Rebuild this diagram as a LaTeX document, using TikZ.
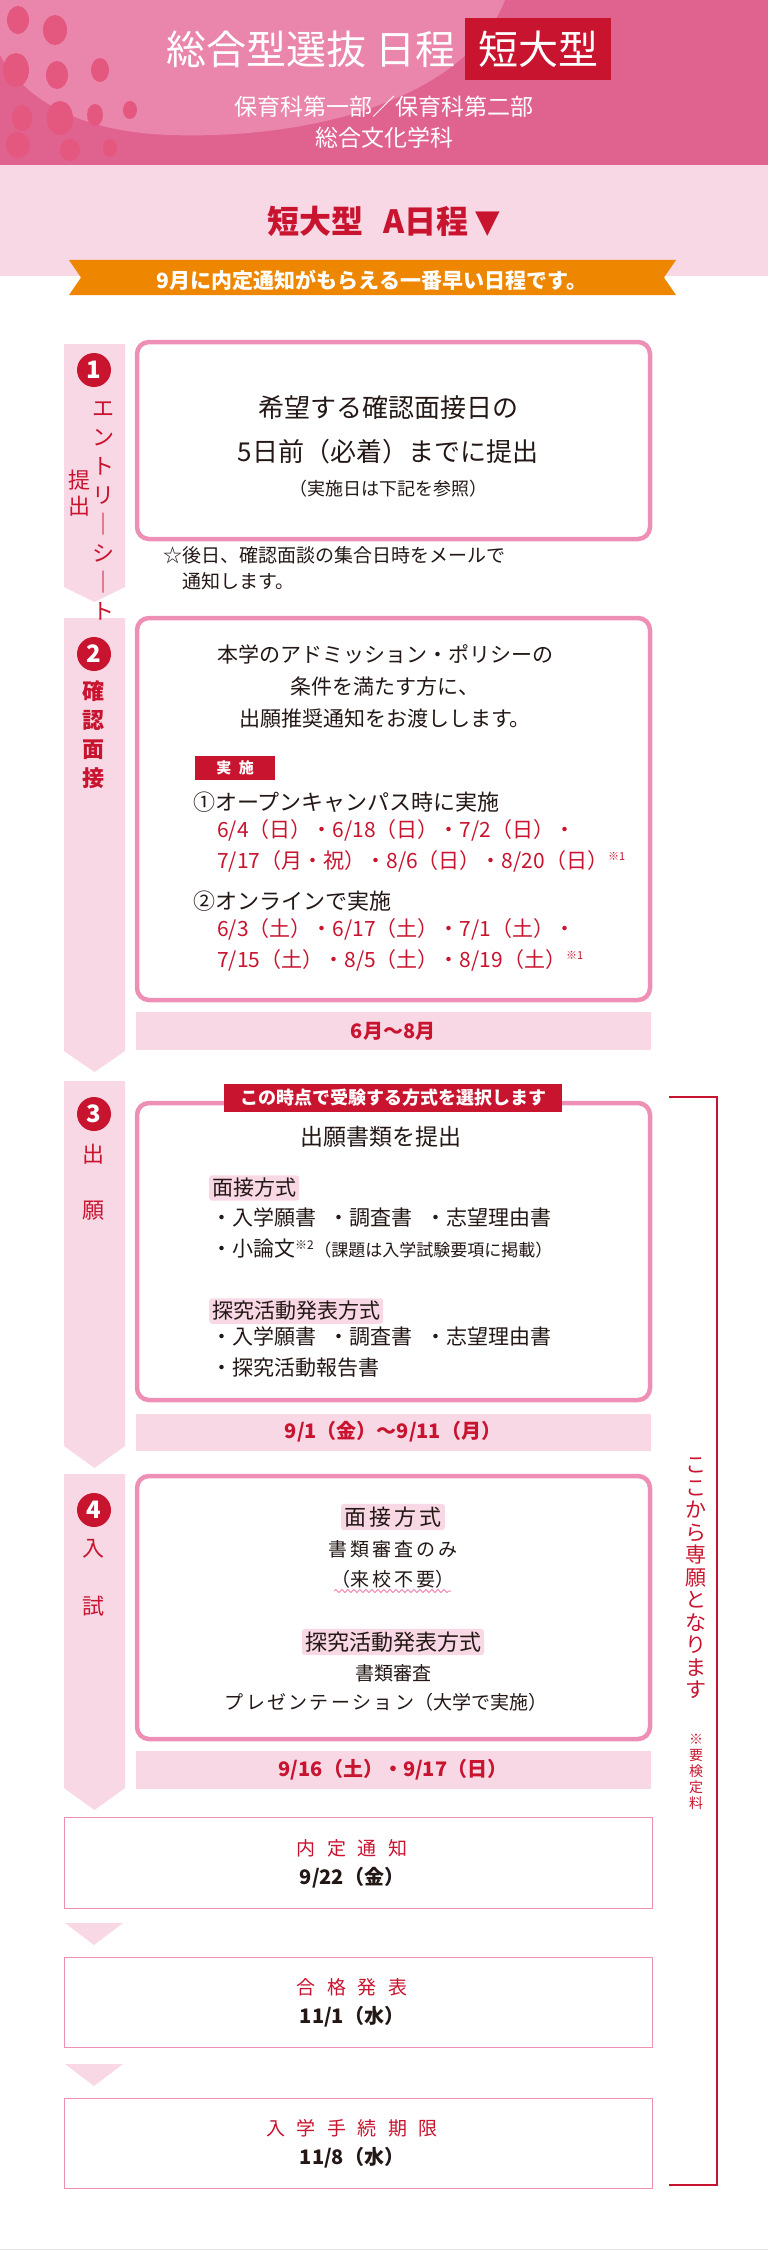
\documentclass[tikz,border=0pt]{standalone}
\usepackage{fontspec}
\setmainfont{Noto Sans CJK JP}
\usetikzlibrary{decorations.pathmorphing}
\definecolor{hdpink}{HTML}{E0628F}
\definecolor{swpink}{HTML}{EA86AB}
\definecolor{dotpink}{HTML}{E4577F}
\definecolor{lightpink}{HTML}{F8D8E5}
\definecolor{boxpink}{HTML}{EE90B6}
\definecolor{jred}{HTML}{C8142F}
\definecolor{jorange}{HTML}{EE8600}
\definecolor{ink}{HTML}{231815}
\tikzset{stepbar/.style={fill=lightpink, draw=none}}
\tikzset{stepbox/.style={draw=boxpink, line width=4.5pt, rounded corners=12pt, fill=white}}
\tikzset{numdot/.style={circle, fill=jred, text=white, inner sep=0pt, minimum size=34pt, font=\fontsize{24}{24}\selectfont\bfseries}}
\tikzset{vlabel/.style={text=jred, align=center, inner sep=0pt}}
\tikzset{dateband/.style={fill=lightpink, draw=none}}
\tikzset{datetext/.style={text=jred, font=\fontsize{20}{20}\selectfont\bfseries, inner sep=0pt}}
\tikzset{tagbox/.style={fill=lightpink, rounded corners=3pt, inner sep=3pt, text=ink}}
\tikzset{bodytext/.style={text=ink, inner sep=0pt}}
\tikzset{endbox/.style={draw=boxpink, line width=1pt, fill=white}}
\begin{document}
\begin{tikzpicture}[x=1pt,y=-1pt]
    \useasboundingbox (0,0) rectangle (768,2250);
    % header
    \fill[hdpink] (0,0) rectangle (768,165);
    \fill[swpink] (0,0) -- (505,0) .. controls (470,90) and (330,140) .. (170,135)
      .. controls (80,132) and (25,100) .. (0,55) -- cycle;
    \foreach \px/\py/\rx/\ry in {18/20/11/14, 55/30/12/15, 16/70/13/17, 57/75/11/14, 22/118/10/13,
      60/118/13/17, 100/70/9/12, 95/115/8/11, 18/145/12/13, 70/150/10/11, 110/148/7/9, 130/110/7/9}
      \fill[dotpink] (\px,\py) ellipse ({\rx} and {\ry});
    \fill[lightpink] (0,165) rectangle (768,276);
    \node[text=white, inner sep=0pt, font=\fontsize{40}{40}\selectfont, anchor=east] (title) at (456,49) {総合型選抜 日程};
    \node[fill=jred, text=white, inner sep=0pt, minimum width=146pt, minimum height=62pt, font=\fontsize{40}{40}\selectfont, anchor=west] (tanki) at (465,49) {短大型};
    \node[text=white, font=\fontsize{23}{23}\selectfont, inner sep=0pt] (dept1) at (384,107) {保育科第一部／保育科第二部};
    \node[text=white, font=\fontsize{23}{23}\selectfont, inner sep=0pt] (dept2) at (384,138) {総合文化学科};
    \node[text=jred, font=\fontsize{32}{32}\selectfont\bfseries, inner sep=0pt] (sched) at (384,221) {短大型\hspace{0.6em}A日程 \raisebox{1pt}{\fontspec{DejaVu Sans}▼}};
    % banner
    \fill[jorange] (69,260) -- (676,260) -- (664,277.5) -- (676,295) -- (69,295) -- (81,277.5) -- cycle;
    \node[text=white, font=\fontsize{21}{21}\selectfont\bfseries, inner sep=0pt] (banner) at (372,280) {9月に内定通知がもらえる一番早い日程です。};
    % step bars
    \fill[stepbar] (64,344) -- (125,344) -- (125,587) -- (94.5,602) -- (64,587) -- cycle;
    \fill[stepbar] (64,618) -- (125,618) -- (125,1051) -- (94.5,1072) -- (64,1051) -- cycle;
    \fill[stepbar] (64,1081) -- (125,1081) -- (125,1446) -- (94.5,1468) -- (64,1446) -- cycle;
    \fill[stepbar] (64,1474) -- (125,1474) -- (125,1788) -- (94.5,1810) -- (64,1788) -- cycle;
    \node[numdot] (n1) at (94,370) {1};
    \node[numdot] (n2) at (94,654) {2};
    \node[numdot] (n3) at (94,1114) {3};
    \node[numdot] (n4) at (94,1510) {4};
    \node[vlabel, font=\fontsize{22}{29}\selectfont, anchor=north] (v1) at (103,402) {エ\\ン\\ト\\リ\\｜\\シ\\｜\\ト};
    \node[vlabel, font=\fontsize{22}{26}\selectfont, anchor=north] (v1b) at (79,470) {提\\出};
    \node[vlabel, font=\fontsize{22}{29}\selectfont\bfseries, anchor=north] (v2) at (93,680) {確\\認\\面\\接};
    \node[vlabel, font=\fontsize{22}{22}\selectfont] (v3a) at (93,1154) {出};
    \node[vlabel, font=\fontsize{22}{22}\selectfont] (v3b) at (93,1211) {願};
    \node[vlabel, font=\fontsize{22}{22}\selectfont] (v4a) at (93,1549) {入};
    \node[vlabel, font=\fontsize{22}{22}\selectfont] (v4b) at (93,1606) {試};
    % step 1
    \draw[stepbox] (137,342) rectangle (650,539);
    \node[bodytext, font=\fontsize{26}{26}\selectfont] (s1a) at (388,408) {希望する確認面接日の};
    \node[bodytext, font=\fontsize{26}{26}\selectfont] (s1b) at (388,452) {5日前（必着）までに提出};
    \node[bodytext, font=\fontsize{18}{18}\selectfont] (s1c) at (388,489) {（実施日は下記を参照）};
    \node[bodytext, font=\fontsize{19}{26}\selectfont, align=left, anchor=north west] (note) at (163,546) {☆後日、確認面談の集合日時をメールで\\\hspace{1em}通知します。};
    % step 2
    \draw[stepbox] (137,618) rectangle (650,1000);
    \node[bodytext, font=\fontsize{21}{32}\selectfont, align=center] (s2a) at (385,686) {本学のアドミッション・ポリシーの\\条件を満たす方に、\\出願推奨通知をお渡しします。};
    \node[fill=jred, text=white, font=\fontsize{15}{15}\selectfont\bfseries, minimum width=80pt, minimum height=24pt, inner sep=0pt, anchor=west] (jisshi) at (195,768) {実\hspace{0.5em}施};
    \node[bodytext, font=\fontsize{22}{22}\selectfont, anchor=west] (op1) at (193,802) {①オープンキャンパス時に実施};
    \node[text=jred, font=\fontsize{21}{31}\selectfont, align=left, anchor=north west, inner sep=0pt] (d1) at (217,819) {6/4（日）・6/18（日）・7/2（日）・\\7/17（月・祝）・8/6（日）・8/20（日）\textsuperscript{\fontsize{11}{11}\selectfont ※1}};
    \node[bodytext, font=\fontsize{22}{22}\selectfont, anchor=west] (op2) at (193,901) {②オンラインで実施};
    \node[text=jred, font=\fontsize{21}{31}\selectfont, align=left, anchor=north west, inner sep=0pt] (d2) at (217,918) {6/3（土）・6/17（土）・7/1（土）・\\7/15（土）・8/5（土）・8/19（土）\textsuperscript{\fontsize{11}{11}\selectfont ※1}};
    \fill[dateband] (136,1012) rectangle (651,1050);
    \node[datetext] (t2) at (393,1031) {6月〜8月};
    % step 3
    \draw[stepbox] (137,1103) rectangle (650,1400);
    \node[fill=jred, text=white, font=\fontsize{18}{18}\selectfont\bfseries, minimum width=338pt, minimum height=28pt, inner sep=0pt] (pick) at (393,1098) {この時点で受験する方式を選択します};
    \node[bodytext, font=\fontsize{23}{23}\selectfont] (s3a) at (381,1137) {出願書類を提出};
    \node[tagbox, font=\fontsize{21}{21}\selectfont, anchor=west] (tag1) at (209,1188) {面接方式};
    \node[bodytext, font=\fontsize{21}{31}\selectfont, align=left, anchor=north west] (b1) at (211,1208) {・入学願書\hspace{0.6em}・調査書\hspace{0.6em}・志望理由書\\・小論文\textsuperscript{\fontsize{12}{12}\selectfont ※2}{\fontsize{17}{17}\selectfont（課題は入学試験要項に掲載）}};
    \node[tagbox, font=\fontsize{21}{21}\selectfont, anchor=west] (tag2) at (209,1311) {探究活動発表方式};
    \node[bodytext, font=\fontsize{21}{31}\selectfont, align=left, anchor=north west] (b2) at (211,1327) {・入学願書\hspace{0.6em}・調査書\hspace{0.6em}・志望理由書\\・探究活動報告書};
    \fill[dateband] (136,1414) rectangle (651,1451);
    \node[datetext] (t3) at (393,1432) {9/1（金）〜9/11（月）};
    % step 4
    \draw[stepbox] (137,1476) rectangle (650,1739);
    \node[tagbox, font=\fontsize{22}{22}\selectfont] (tag3) at (393,1517) {面\hspace{0.15em}接\hspace{0.15em}方\hspace{0.15em}式};
    \node[bodytext, font=\fontsize{19}{19}\selectfont] (s4a) at (393,1549) {書\hspace{0.15em}類\hspace{0.15em}審\hspace{0.15em}査\hspace{0.15em}の\hspace{0.15em}み};
    \node[bodytext, font=\fontsize{19}{19}\selectfont] (s4b) at (393,1579) {（来\hspace{0.15em}校\hspace{0.15em}不\hspace{0.15em}要）};
    \coordinate (wl) at (334,1591);
    \coordinate (wr) at (451,1591);
    \draw[boxpink, line width=1pt, decorate, decoration={snake, amplitude=1.5pt, segment length=6pt}] (wl) -- (wr);
    \node[tagbox, font=\fontsize{22}{22}\selectfont] (tag4) at (393,1642) {探究活動発表方式};
    \node[bodytext, font=\fontsize{19}{19}\selectfont] (s4c) at (393,1673) {書類審査};
    \node[bodytext, font=\fontsize{19}{19}\selectfont] (s4d) at (386,1702) {プ\hspace{0.12em}レ\hspace{0.12em}ゼ\hspace{0.12em}ン\hspace{0.12em}テ\hspace{0.12em}ー\hspace{0.12em}シ\hspace{0.12em}ョ\hspace{0.12em}ン（大学で実施）};
    \fill[dateband] (136,1751) rectangle (651,1789);
    \node[datetext] (t4) at (393,1770) {9/16（土）・9/17（日）};
    % final boxes
    \draw[endbox] (64,1817) rectangle (652,1908);
    \node[text=jred, font=\fontsize{19}{19}\selectfont, inner sep=0pt] (r1a) at (352,1848) {内\hspace{0.6em}定\hspace{0.6em}通\hspace{0.6em}知};
    \node[bodytext, font=\fontsize{20}{20}\selectfont\bfseries] (r1b) at (352,1878) {9/22（金）};
    \fill[lightpink] (65,1923) -- (123,1923) -- (94,1945) -- cycle;
    \draw[endbox] (64,1957) rectangle (652,2047);
    \node[text=jred, font=\fontsize{19}{19}\selectfont, inner sep=0pt] (r2a) at (352,1987) {合\hspace{0.6em}格\hspace{0.6em}発\hspace{0.6em}表};
    \node[bodytext, font=\fontsize{20}{20}\selectfont\bfseries] (r2b) at (352,2017) {11/1（水）};
    \fill[lightpink] (65,2064) -- (123,2064) -- (94,2086) -- cycle;
    \draw[endbox] (64,2098) rectangle (652,2188);
    \node[text=jred, font=\fontsize{19}{19}\selectfont, inner sep=0pt] (r3a) at (352,2128) {入\hspace{0.6em}学\hspace{0.6em}手\hspace{0.6em}続\hspace{0.6em}期\hspace{0.6em}限};
    \node[bodytext, font=\fontsize{20}{20}\selectfont\bfseries] (r3b) at (352,2158) {11/8（水）};
    % bracket
    \coordinate (bt) at (669,1097);
    \coordinate (bb) at (669,2185);
    \draw[jred, line width=1.5pt] (bt) -- (717,1097) -- (717,2185) -- (bb);
    \node[vlabel, font=\fontsize{21}{22.5}\selectfont, anchor=north] (sengan) at (696,1458) {こ\\こ\\か\\ら\\専\\願\\と\\な\\り\\ま\\す};
    \node[vlabel, font=\fontsize{14}{16}\selectfont, anchor=north] (fee) at (696,1734) {※\\要\\検\\定\\料};
    \draw[black!10, line width=1pt] (0,2249) -- (768,2249);
\end{tikzpicture}
\end{document}
